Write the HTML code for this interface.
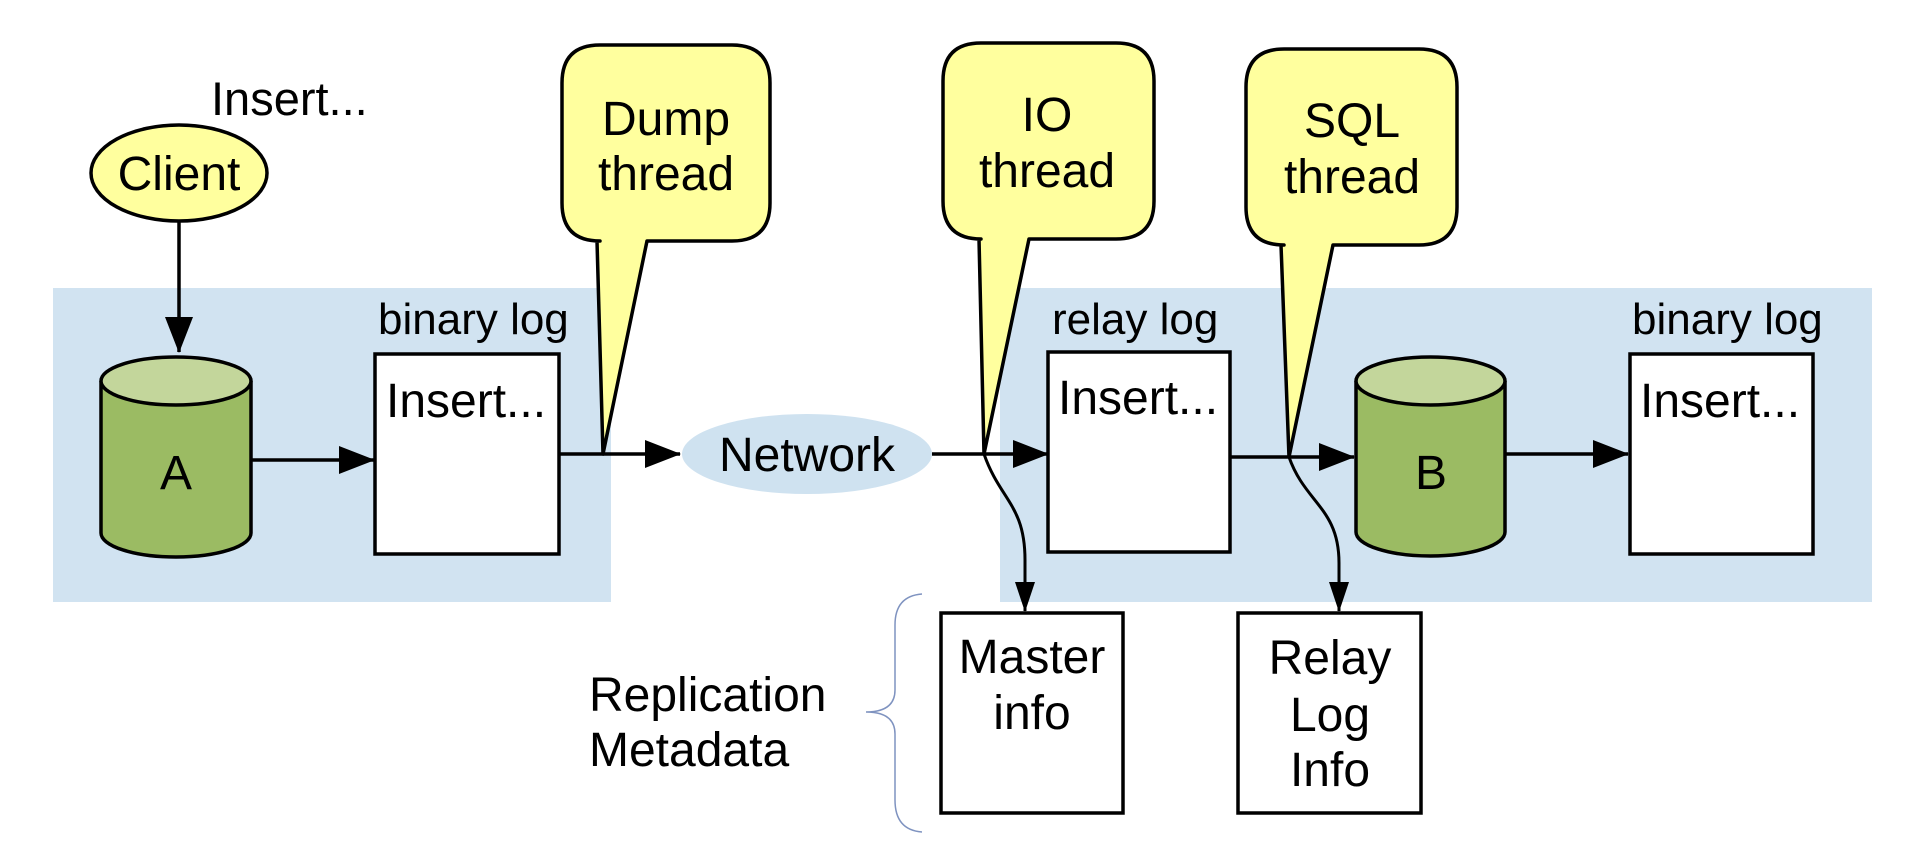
<!DOCTYPE html>
<html><head><meta charset="utf-8"><style>
html,body{margin:0;padding:0;background:#fff;}
svg{display:block;}
text{font-family:"Liberation Sans",sans-serif;fill:#000;}
</style></head><body>
<svg width="1918" height="858" viewBox="0 0 1918 858" xmlns="http://www.w3.org/2000/svg">
<defs>
<marker id="ah" markerWidth="36" markerHeight="28" refX="35" refY="14" orient="auto" markerUnits="userSpaceOnUse">
<path d="M0,0 L36,14 L0,28 Z" fill="#000"/>
</marker>
<marker id="ah2" markerWidth="30" markerHeight="20" refX="29" refY="10" orient="auto" markerUnits="userSpaceOnUse">
<path d="M0,0 L30,10 L0,20 Z" fill="#000"/>
</marker>
</defs>
<rect x="53" y="288" width="558" height="314" fill="#d1e3f1"/>
<rect x="1000" y="288" width="872" height="314" fill="#d1e3f1"/>

<text x="211" y="115" font-size="47">Insert...</text>
<ellipse cx="179" cy="173" rx="88" ry="48" fill="#ffff9e" stroke="#000" stroke-width="3.5"/>
<text x="179" y="190" font-size="48" text-anchor="middle">Client</text>
<line x1="179" y1="222" x2="179" y2="352" stroke="#000" stroke-width="3.5" marker-end="url(#ah)"/>

<path d="M101,381 L101,533 A75,24 0 0 0 251,533 L251,381" fill="#9bbb63" stroke="#000" stroke-width="3.5"/>
<ellipse cx="176" cy="381" rx="75" ry="24" fill="#c3d69b" stroke="#000" stroke-width="3.5"/>
<text x="176" y="489" font-size="48" text-anchor="middle">A</text>
<line x1="251" y1="460" x2="374" y2="460" stroke="#000" stroke-width="3.5" marker-end="url(#ah)"/>

<text x="378" y="334" font-size="44">binary log</text>
<rect x="375" y="354" width="184" height="200" fill="#fff" stroke="#000" stroke-width="3.5"/>
<text x="386" y="417" font-size="48">Insert...</text>
<line x1="559" y1="454" x2="680" y2="454" stroke="#000" stroke-width="3.5" marker-end="url(#ah)"/>

<path d="M600,45 L732,45 Q770,45 770,83 L770,203 Q770,241 732,241 L647,241 L603,454 L597,241 L600,241 Q562,241 562,203 L562,83 Q562,45 600,45 Z" fill="#ffff9e" stroke="#000" stroke-width="3.5" stroke-linejoin="round"/>
<text x="666" y="135" font-size="48" text-anchor="middle">Dump</text>
<text x="666" y="190" font-size="48" text-anchor="middle">thread</text>

<ellipse cx="807" cy="454" rx="125" ry="40" fill="#cfe2f0"/>
<text x="807" y="471" font-size="48" text-anchor="middle">Network</text>
<line x1="932" y1="454" x2="1048" y2="454" stroke="#000" stroke-width="3.5" marker-end="url(#ah)"/>

<path d="M981,43 L1116,43 Q1154,43 1154,81 L1154,201 Q1154,239 1116,239 L1029,239 L984,454 L979,239 L981,239 Q943,239 943,201 L943,81 Q943,43 981,43 Z" fill="#ffff9e" stroke="#000" stroke-width="3.5" stroke-linejoin="round"/>
<text x="1047" y="131" font-size="48" text-anchor="middle">IO</text>
<text x="1047" y="187" font-size="48" text-anchor="middle">thread</text>

<text x="1052" y="334" font-size="44">relay log</text>
<rect x="1048" y="352" width="182" height="200" fill="#fff" stroke="#000" stroke-width="3.5"/>
<text x="1058" y="414" font-size="48">Insert...</text>
<line x1="1230" y1="457" x2="1354" y2="457" stroke="#000" stroke-width="3.5" marker-end="url(#ah)"/>

<path d="M1284,49 L1419,49 Q1457,49 1457,87 L1457,207 Q1457,245 1419,245 L1333,245 L1289,457 L1281,245 L1284,245 Q1246,245 1246,207 L1246,87 Q1246,49 1284,49 Z" fill="#ffff9e" stroke="#000" stroke-width="3.5" stroke-linejoin="round"/>
<text x="1352" y="137" font-size="48" text-anchor="middle">SQL</text>
<text x="1352" y="193" font-size="48" text-anchor="middle">thread</text>

<path d="M1356,381 L1356,532 A74.5,24 0 0 0 1505,532 L1505,381" fill="#9bbb63" stroke="#000" stroke-width="3.5"/>
<ellipse cx="1430.5" cy="381" rx="74.5" ry="24" fill="#c3d69b" stroke="#000" stroke-width="3.5"/>
<text x="1431" y="489" font-size="48" text-anchor="middle">B</text>
<line x1="1505" y1="454" x2="1628" y2="454" stroke="#000" stroke-width="3.5" marker-end="url(#ah)"/>

<text x="1632" y="334" font-size="44">binary log</text>
<rect x="1630" y="354" width="183" height="200" fill="#fff" stroke="#000" stroke-width="3.5"/>
<text x="1640" y="417" font-size="48">Insert...</text>

<path d="M984,454 C1000,500 1025,505 1025,560 L1025,611" fill="none" stroke="#000" stroke-width="3" marker-end="url(#ah2)"/>
<path d="M1289,457 C1305,503 1339,508 1339,563 L1339,611" fill="none" stroke="#000" stroke-width="3" marker-end="url(#ah2)"/>

<rect x="941" y="613" width="182" height="200" fill="#fff" stroke="#000" stroke-width="3.5"/>
<text x="1032" y="673" font-size="48" text-anchor="middle">Master</text>
<text x="1032" y="729" font-size="48" text-anchor="middle">info</text>
<rect x="1238" y="613" width="183" height="200" fill="#fff" stroke="#000" stroke-width="3.5"/>
<text x="1330" y="674" font-size="48" text-anchor="middle">Relay</text>
<text x="1330" y="731" font-size="48" text-anchor="middle">Log</text>
<text x="1330" y="786" font-size="48" text-anchor="middle">Info</text>
<text x="589" y="711" font-size="48">Replication</text>
<text x="589" y="766" font-size="48">Metadata</text>
<path d="M922,594 Q895,596 895,625 L895,690 Q895,712 866,712 Q895,712 895,734 L895,800 Q895,830 922,832" fill="none" stroke="#7f93c0" stroke-width="1.5"/>
</svg>
</body></html>
